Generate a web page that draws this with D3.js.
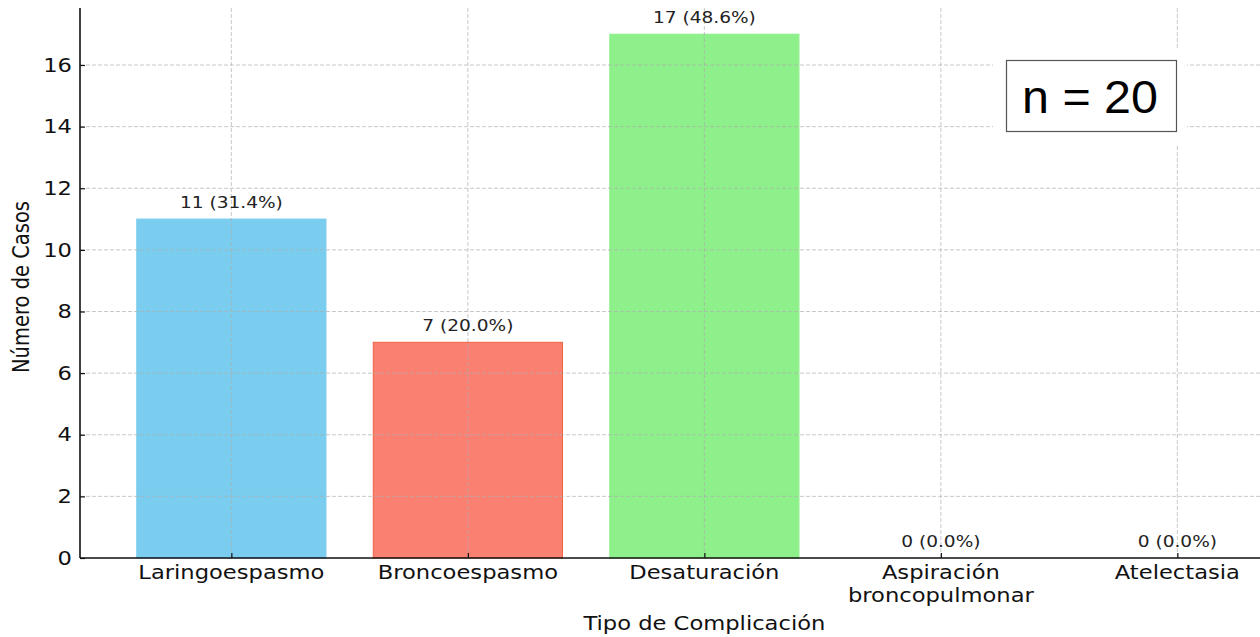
<!DOCTYPE html>
<html>
<head>
<meta charset="utf-8">
<script src="https://cdn.jsdelivr.net/npm/d3@7"></script>
<style>
  html, body { margin: 0; padding: 0; background: #fff; }
  svg { display: block; }
</style>
</head>
<body>
<svg id="chart" width="1260" height="637"></svg>
<script>
// Complications by type
const categories = ["Laringoespasmo", "Broncoespasmo", "Desaturación", "Aspiración\nbroncopulmonar", "Atelectasia"];
const casos = [11, 7, 17, 0, 0];
const porcentajes = [31.4, 20.0, 48.6, 0.0, 0.0];
const barColors = ["#7acdee", "#fa8072", "#8ef08a", "#87ceeb", "#87ceeb"];
const barEdges = ["#7acdee", "#f0623f", "#8ef08a", "#87ceeb", "#87ceeb"];
const yTicks = [0, 2, 4, 6, 8, 10, 12, 14, 16];
const totalN = 20;

const svg = d3.select("#chart");
const plot = { left: 80, top: 8, bottom: 558 };
const step = 236.5;
const SX = 1.16; // horizontal glyph stretch

const x = d3.scaleLinear().domain([-0.64, 4.64]).range([plot.left, plot.left + 5.28 * step]);
const y = d3.scaleLinear().domain([0, 17.85]).range([plot.bottom, plot.top]);
const barW = x(0.8) - x(0);

const tickFont = "DejaVu Sans, sans-serif";

// bars
svg.append("g").selectAll("rect")
  .data(casos)
  .join("rect")
  .attr("x", (d, i) => x(i) - barW / 2)
  .attr("y", d => y(d))
  .attr("width", barW)
  .attr("height", d => y(0) - y(d))
  .attr("fill", (d, i) => barColors[i])
  .attr("stroke", (d, i) => d > 0 ? barEdges[i] : "none")
  .attr("stroke-width", 1);

// dashed grid above bars
const grid = svg.append("g")
  .attr("stroke", "#b0b0b0")
  .attr("stroke-width", 0.8)
  .attr("stroke-dasharray", "4,2")
  .attr("opacity", 0.85);
grid.selectAll("line.h")
  .data(yTicks.filter(t => t > 0))
  .join("line")
  .attr("class", "h")
  .attr("x1", plot.left).attr("x2", 1260)
  .attr("y1", d => y(d)).attr("y2", d => y(d));
grid.selectAll("line.v")
  .data(categories.map((c, i) => i))
  .join("line")
  .attr("class", "v")
  .attr("x1", d => x(d)).attr("x2", d => x(d))
  .attr("y1", plot.top).attr("y2", plot.bottom);

// value labels
svg.append("g").selectAll("text")
  .data(casos)
  .join("text")
  .attr("transform", (d, i) => `translate(${x(i)},${y(d) - 11.5}) scale(${SX},1)`)
  .attr("text-anchor", "middle")
  .attr("font-family", tickFont)
  .attr("font-size", 16)
  .attr("fill", "#222")
  .text((d, i) => `${d} (${porcentajes[i].toFixed(1)}%)`);

// y axis
const yAxis = d3.axisLeft(y).tickValues(yTicks).tickSize(-5).tickPadding(0).tickFormat(d3.format("d"));
const gy = svg.append("g").attr("transform", `translate(${plot.left},0)`).call(yAxis);
gy.select(".domain").attr("stroke", "#111").attr("stroke-width", 1.6)
  .attr("d", `M0,${plot.top}V${plot.bottom}`);
gy.selectAll(".tick line").attr("stroke", "#111").attr("stroke-width", 1.2);
gy.selectAll(".tick text")
  .attr("x", 0)
  .attr("transform", `translate(-8,0) scale(${SX},1)`)
  .attr("font-family", tickFont).attr("font-size", 19.5).attr("fill", "#111");

// x axis
const xAxis = d3.axisBottom(x).tickValues(categories.map((c, i) => i)).tickSize(-5).tickFormat("");
const gx = svg.append("g").attr("transform", `translate(0,${plot.bottom})`).call(xAxis);
gx.select(".domain").attr("stroke", "#111").attr("stroke-width", 1.6)
  .attr("d", `M${plot.left},0H1260`);
gx.selectAll(".tick line").attr("stroke", "#111").attr("stroke-width", 1.2);

// category labels (multi-line)
const catLabels = svg.append("g").selectAll("text")
  .data(categories)
  .join("text")
  .attr("transform", (d, i) => `translate(${x(i)},${plot.bottom + 21}) scale(${SX},1)`)
  .attr("text-anchor", "middle")
  .attr("font-family", tickFont)
  .attr("font-size", 19.5)
  .attr("fill", "#111");
catLabels.each(function(d) {
  const lines = d.split("\n");
  d3.select(this).selectAll("tspan")
    .data(lines)
    .join("tspan")
    .attr("x", 0)
    .attr("dy", (l, j) => j === 0 ? 0 : 23)
    .text(l => l);
});

// axis titles
svg.append("text")
  .attr("transform", `translate(${x(2)},629.5) scale(${SX},1)`)
  .attr("text-anchor", "middle")
  .attr("font-family", tickFont)
  .attr("font-size", 19.5)
  .attr("fill", "#111")
  .text("Tipo de Complicación");

svg.append("text")
  .attr("transform", `translate(29,${(plot.top + plot.bottom) / 2 + 4}) scale(${SX},1) rotate(-90)`)
  .attr("text-anchor", "middle")
  .attr("font-family", tickFont)
  .attr("font-size", 19.5)
  .attr("fill", "#111")
  .text("Número de Casos");

// sample size box
const box = svg.append("g");
box.append("rect")
  .attr("x", 993).attr("y", 50).attr("width", 194).attr("height", 95)
  .attr("fill", "#fff");
box.append("rect")
  .attr("x", 1006.5).attr("y", 60.5).attr("width", 170).attr("height", 71)
  .attr("fill", "#fff").attr("stroke", "#555").attr("stroke-width", 1.2);
box.append("text")
  .attr("x", 1090).attr("y", 113)
  .attr("text-anchor", "middle")
  .attr("font-family", "Liberation Sans, Arial, sans-serif")
  .attr("font-size", 46)
  .attr("textLength", 136)
  .attr("lengthAdjust", "spacingAndGlyphs")
  .attr("fill", "#000")
  .text(`n = ${totalN}`);
</script>
</body>
</html>
